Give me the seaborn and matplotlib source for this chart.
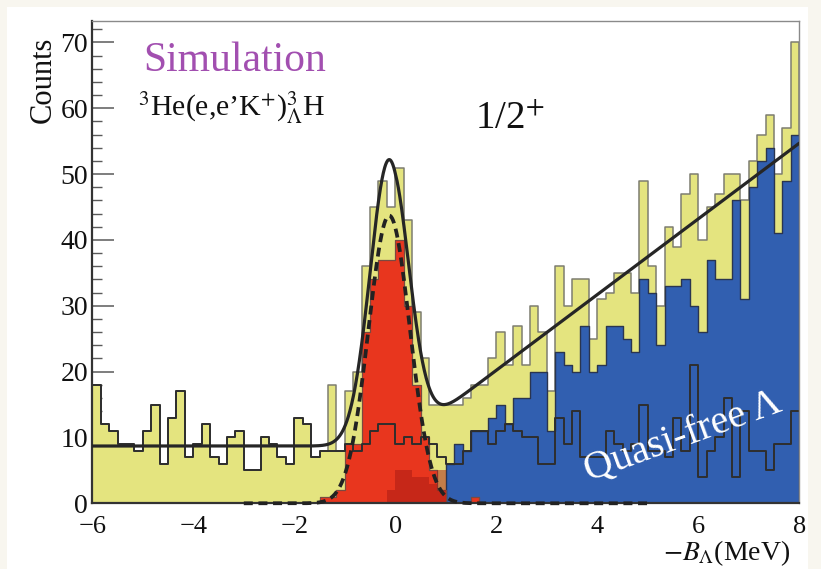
import numpy as np
import pandas as pd
import matplotlib
matplotlib.use("Agg")
import matplotlib.pyplot as plt
from matplotlib.ticker import MultipleLocator
from matplotlib.patches import Rectangle
import seaborn as sns

# Missing-energy axis: -6 .. 8 MeV in 1/6 MeV bins
x_min, x_max, n_bins = -6.0, 8.0, 84

# Total simulated spectrum (filled yellow)
total_counts = [18, 12, 11, 9, 9, 8, 11, 15, 6, 13, 17, 7, 9, 12, 7, 6, 10, 11, 5, 5,
                10, 9, 7, 6, 13, 12, 7, 8, 18, 8, 17, 20, 36, 45, 49, 45, 51, 43, 29, 22,
                15, 15, 15, 15, 16, 18, 18, 22, 26, 21, 27, 21, 30, 26, 17, 36, 30, 34, 34, 25,
                31, 32, 35, 35, 32, 49, 36, 30, 42, 39, 47, 50, 40, 45, 47, 50, 50, 46, 52, 56,
                59, 50, 57, 70]

# Hypertriton bound-state contribution (red)
peak_counts = [0, 0, 0, 0, 0, 0, 0, 0, 0, 0, 0, 0, 0, 0, 0, 0, 0, 0, 0, 0,
               0, 0, 0, 0, 0, 0, 0, 1, 1, 2, 9, 9, 26, 34, 37, 37, 40, 30, 18, 10,
               5, 2, 0, 0, 0, 1, 0, 0, 0, 0, 0, 0, 0, 0, 0, 0, 0, 0, 0, 0,
               0, 0, 0, 0, 0, 0, 0, 0, 0, 0, 0, 0, 0, 0, 0, 0, 0, 0, 0, 0,
               0, 0, 0, 0]

# Excited-state component drawn translucent over the peak
excited_counts = [0, 0, 0, 0, 0, 0, 0, 0, 0, 0, 0, 0, 0, 0, 0, 0, 0, 0, 0, 0,
                  0, 0, 0, 0, 0, 0, 0, 0, 0, 0, 0, 0, 0, 0, 0, 2, 5, 5, 4, 4,
                  3, 5, 0, 0, 0, 0, 0, 0, 0, 0, 0, 0, 0, 0, 0, 0, 0, 0, 0, 0,
                  0, 0, 0, 0, 0, 0, 0, 0, 0, 0, 0, 0, 0, 0, 0, 0, 0, 0, 0, 0,
                  0, 0, 0, 0]

# Quasi-free Lambda production (blue)
quasi_free_counts = [0, 0, 0, 0, 0, 0, 0, 0, 0, 0, 0, 0, 0, 0, 0, 0, 0, 0, 0, 0,
                     0, 0, 0, 0, 0, 0, 0, 0, 0, 0, 0, 0, 0, 0, 0, 0, 0, 0, 0, 0,
                     0, 0, 6, 9, 8, 11, 11, 13, 15, 12, 16, 16, 20, 20, 11, 23, 21, 20, 27, 20,
                     21, 27, 27, 25, 23, 34, 32, 24, 33, 33, 34, 30, 26, 37, 34, 34, 46, 31, 48, 52,
                     54, 41, 49, 56]

# Accidental-coincidence background (black outline)
accidental_counts = [18, 12, 11, 9, 9, 8, 11, 15, 6, 13, 17, 7, 9, 12, 7, 6, 10, 11, 5, 5,
                     10, 9, 7, 6, 13, 12, 7, 8, 8, 8, 9, 8, 9, 11, 12, 12, 9, 10, 9, 10,
                     9, 7, 6, 6, 8, 11, 11, 9, 11, 12, 11, 10, 10, 6, 6, 13, 9, 14, 7, 7,
                     7, 11, 9, 8, 9, 15, 8, 8, 7, 13, 8, 21, 4, 8, 10, 16, 4, 14, 8, 8,
                     5, 9, 9, 14]

# Fit parameters: flat accidentals + Gaussian peak + linear quasi-free rise
fit_base, fit_amp, fit_mu, fit_sigma = 8.7, 43.5, -0.12, 0.38
fit_slope, fit_threshold = 5.75, 0.0
peak_amp, peak_mu, peak_sigma = 43.7, -0.12, 0.41
peak_range = (-3.0, 5.0)

edges = [float(e) for e in np.linspace(x_min, x_max, n_bins + 1)]
centers = 0.5 * (np.array(edges[:-1]) + np.array(edges[1:]))
df = pd.DataFrame({
    "E": centers,
    "total": total_counts,
    "peak": peak_counts,
    "excited": excited_counts,
    "qf": quasi_free_counts,
    "acc": accidental_counts,
})

sns.set_theme(style="ticks")
plt.rcParams["font.family"] = ["Liberation Serif", "DejaVu Serif"]
plt.rcParams["mathtext.fontset"] = "stix"

W, H = 821, 569
fig = plt.figure(figsize=(W / 100, H / 100), dpi=100, facecolor="#f8f6ef")
fig.patches.append(Rectangle((7 / W, 0), (808 - 7) / W, (H - 7) / H,
                             transform=fig.transFigure, facecolor="white",
                             edgecolor="none", zorder=-10))
ax = fig.add_axes([92.3 / W, (H - 503.3) / H, 707.0 / W, 482.6 / H])
ax.set_facecolor("white")


def hist(col, **kw):
    sns.histplot(data=df, x="E", weights=col, bins=edges, element="step",
                 stat="count", ax=ax, legend=False, **kw)


hist("total", fill=True, color="#e4e47f", alpha=1, edgecolor="#7d7d70",
     linewidth=1.1, zorder=1.0)
hist("qf", fill=True, color="#315fb0", alpha=1, edgecolor="#2a3550",
     linewidth=1.0, zorder=1.1)
hist("peak", fill=True, color="#e8361e", alpha=1, edgecolor="#7a4a40",
     linewidth=0.9, zorder=1.2)
hist("excited", fill=True, color="#a51a14", alpha=0.5, linewidth=0,
     zorder=1.3)
hist("acc", fill=False, color="#2e2e2e", linewidth=1.4, zorder=1.4)

# Total fit
xf = np.linspace(x_min, x_max, 1500)
fit = (fit_base
       + fit_amp * np.exp(-0.5 * ((xf - fit_mu) / fit_sigma) ** 2)
       + fit_slope * np.clip(xf - fit_threshold, 0, None))
sns.lineplot(x=xf, y=fit, ax=ax, color="#262626", linewidth=2.3,
             zorder=5, sort=False, estimator=None)

# Bound-state Gaussian
xd = np.linspace(peak_range[0], peak_range[1], 900)
gauss = peak_amp * np.exp(-0.5 * ((xd - peak_mu) / peak_sigma) ** 2)
sns.lineplot(x=xd, y=gauss, ax=ax, color="#222222", linewidth=2.7,
             zorder=4, sort=False, estimator=None)
ax.lines[-1].set_linestyle((0, (2.4, 1.5)))
ax.lines[-1].set_clip_on(False)

ax.set_xlim(x_min, x_max)
ax.set_ylim(0, 73.3)
ax.xaxis.set_major_locator(MultipleLocator(2))
ax.xaxis.set_minor_locator(MultipleLocator(0.5))
ax.yaxis.set_major_locator(MultipleLocator(10))
ax.yaxis.set_minor_locator(MultipleLocator(2))

ax.tick_params(axis="both", which="both", direction="in", top=False,
               right=False, color="#5a5a5a", labelcolor="#111111")
ax.tick_params(axis="y", which="major", length=15.8, width=1.1,
               labelsize=20, pad=3)
ax.tick_params(axis="y", which="minor", length=7.2, width=1.0)
ax.tick_params(axis="x", which="major", length=10, width=1.1,
               labelsize=19, pad=9)
ax.tick_params(axis="x", which="minor", length=5, width=1.0)
for lab in ax.get_yticklabels():
    lab.set_verticalalignment("center_baseline")

for side in ("left", "bottom"):
    ax.spines[side].set_color("#333333")
    ax.spines[side].set_linewidth(1.6)
for side in ("top", "right"):
    ax.spines[side].set_color("#8a8a8a")
    ax.spines[side].set_linewidth(1.0)

ax.set_ylabel("Counts", fontsize=22, loc="top", color="#111111")
ax.yaxis.set_label_coords(-0.049, 0.966)
ax.set_xlabel(r"$-B_{\Lambda}$(MeV)", fontsize=20, loc="right",
              color="#111111")
ax.xaxis.set_label_coords(0.987, -0.072)

ax.text(-5.0, 65.7, "Simulation", color="#a24fb0", fontsize=30,
        ha="left", va="baseline", zorder=6)
ax.text(-5.09, 58.75, r"$^{3}$He(e,e’K$^{+}$)$^{3}_{\Lambda}$H",
        color="#111111", fontsize=21.5, ha="left", va="baseline", zorder=6)
ax.text(1.58, 57.0, r"1/2$^{+}$", color="#111111", fontsize=28,
        ha="left", va="baseline", zorder=6)
ax.text(5.7, 10.1, "Quasi-free Λ", color="white", fontsize=29,
        rotation=20, rotation_mode="anchor", ha="center", va="center",
        zorder=6)

fig.savefig("out.png", dpi=100, facecolor=fig.get_facecolor())
